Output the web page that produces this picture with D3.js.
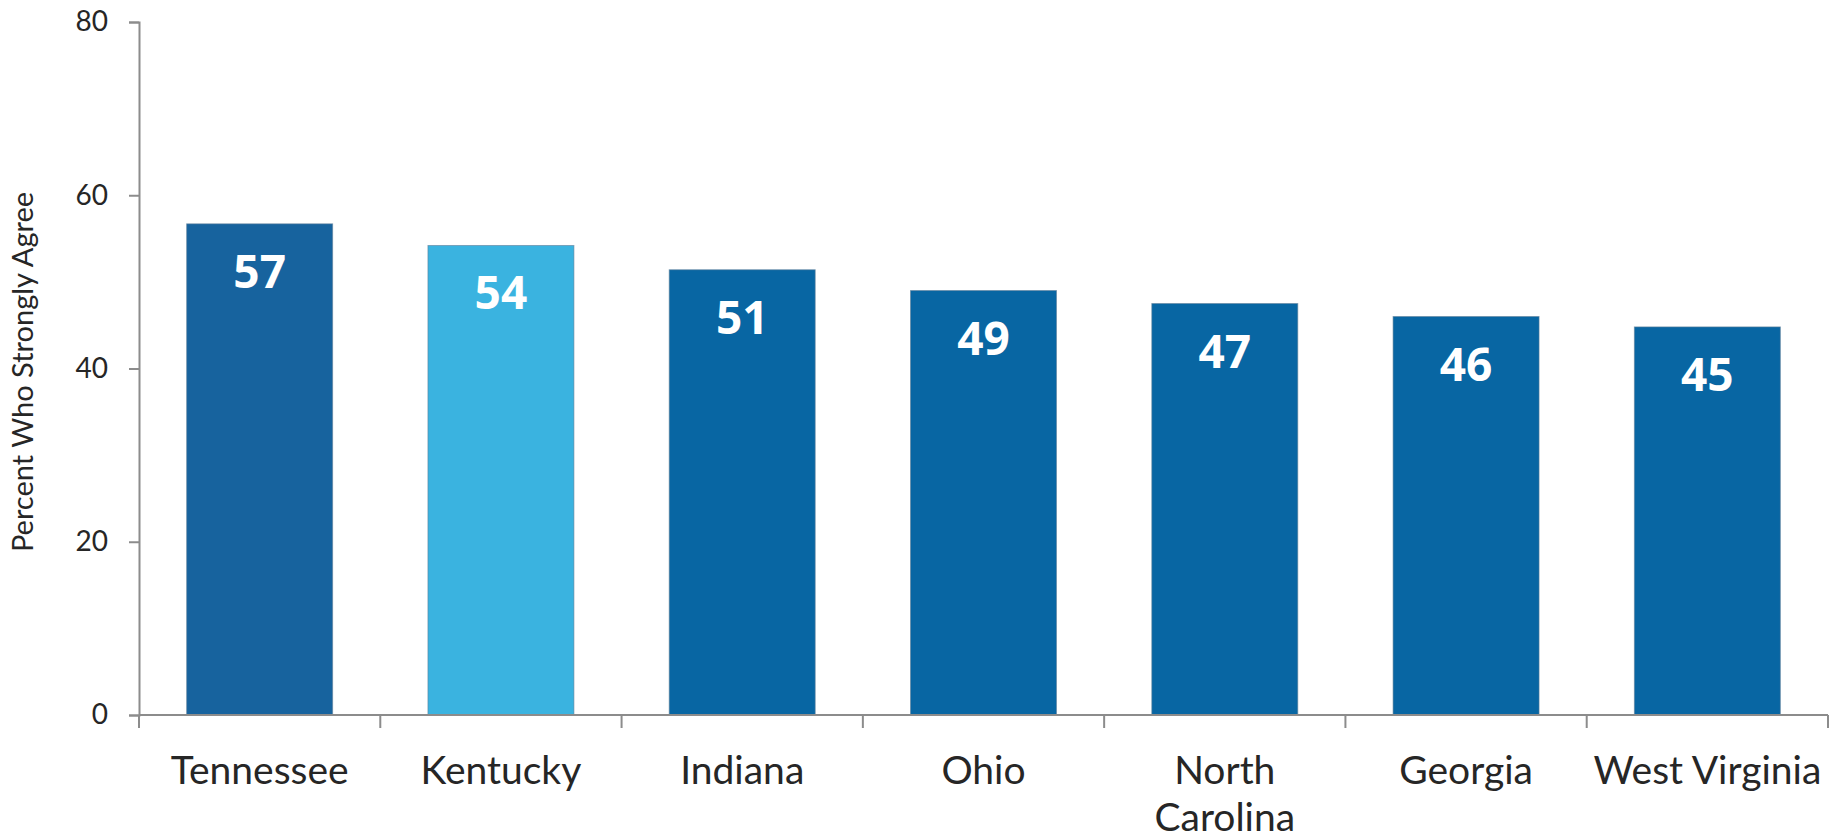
<!DOCTYPE html>
<html>
<head>
<meta charset="utf-8">
<script src="https://cdn.jsdelivr.net/npm/d3@7"></script>
<style>
  html, body { margin: 0; padding: 0; background: #fff; }
  svg { display: block; }
</style>
</head>
<body>
<svg id="chart" width="1831" height="840"></svg>
<script>
const categories = ["Tennessee", "Kentucky", "Indiana", "Ohio", "North Carolina", "Georgia", "West Virginia"];
const categoryLines = [["Tennessee"], ["Kentucky"], ["Indiana"], ["Ohio"], ["North", "Carolina"], ["Georgia"], ["West Virginia"]];
const values = [56.7, 54.2, 51.4, 49.0, 47.5, 46.0, 44.8];
const valueLabels = ["57", "54", "51", "49", "47", "46", "45"];
const barColors = ["#17639e", "#3ab3e0", "#0866a3", "#0866a3", "#0866a3", "#0866a3", "#0866a3"];
const yTicks = [0, 20, 40, 60, 80];
const yTitle = "Percent Who Strongly Agree";

(function () {
const svg = d3.select("#chart");
const mLeft = 139, mRight = 1828, mTop = 22, mBottom = 715;
const pInner = 0.395;

const x = d3.scaleBand().domain(categories).range([mLeft, mRight])
  .paddingInner(pInner).paddingOuter(pInner / 2);
const y = d3.scaleLinear().domain([0, 80]).range([mBottom, mTop]);

const axisColor = "#8c8c8c";

// Bars
svg.append("g").selectAll("rect").data(categories).join("rect")
  .attr("x", d => x(d))
  .attr("y", (d, i) => y(values[i]))
  .attr("width", x.bandwidth())
  .attr("height", (d, i) => y(0) - y(values[i]))
  .attr("fill", (d, i) => barColors[i])
  .attr("stroke", "#5d7f99")
  .attr("stroke-width", 1)
  .attr("stroke-opacity", 0.6);

// Value labels
svg.append("g").selectAll("text").data(categories).join("text")
  .attr("x", d => x(d) + x.bandwidth() / 2)
  .attr("y", (d, i) => y(values[i]) + 64)
  .attr("text-anchor", "middle")
  .attr("fill", "#ffffff")
  .attr("font-family", "'Open Sans', sans-serif")
  .attr("font-weight", 700)
  .attr("font-size", 46)
  .text((d, i) => valueLabels[i]);

// Y axis
const yAxis = svg.append("g")
  .attr("transform", `translate(${mLeft},0)`)
  .call(d3.axisLeft(y).tickValues(yTicks).tickSize(10).tickPadding(21).tickFormat(d3.format("d")));
yAxis.select(".domain").attr("stroke", axisColor).attr("stroke-width", 2);
yAxis.selectAll(".tick line").attr("stroke", axisColor).attr("stroke-width", 2);
yAxis.selectAll(".tick text")
  .attr("fill", "#262626")
  .attr("font-family", "Lato, sans-serif")
  .attr("font-size", 28);

// X axis line
const step = x.step();
const gap = step - x.bandwidth();
const boundaries = categories.map(d => x(d) - gap / 2).concat([x(categories[categories.length - 1]) + x.bandwidth() + gap / 2]);
svg.append("line")
  .attr("x1", mLeft).attr("x2", mRight)
  .attr("y1", y(0)).attr("y2", y(0))
  .attr("stroke", axisColor).attr("stroke-width", 2);
svg.append("g").selectAll("line").data(boundaries).join("line")
  .attr("x1", d => d).attr("x2", d => d)
  .attr("y1", y(0)).attr("y2", y(0) + 13)
  .attr("stroke", axisColor).attr("stroke-width", 2);

// Category labels
const catG = svg.append("g").selectAll("text").data(categories).join("text")
  .attr("x", d => x(d) + x.bandwidth() / 2)
  .attr("y", 784)
  .attr("text-anchor", "middle")
  .attr("fill", "#262626")
  .attr("font-family", "Lato, sans-serif")
  .attr("font-size", 39);
catG.each(function(d, i) {
  const t = d3.select(this);
  categoryLines[i].forEach((line, j) => {
    t.append("tspan")
      .attr("x", x(d) + x.bandwidth() / 2)
      .attr("dy", j === 0 ? 0 : 47)
      .text(line);
  });
});

// Y title
svg.append("text")
  .attr("transform", `translate(33,372) rotate(-90)`)
  .attr("text-anchor", "middle")
  .attr("fill", "#262626")
  .attr("font-family", "Lato, sans-serif")
  .attr("font-size", 29)
  .text(yTitle);
})();
</script>
</body>
</html>
